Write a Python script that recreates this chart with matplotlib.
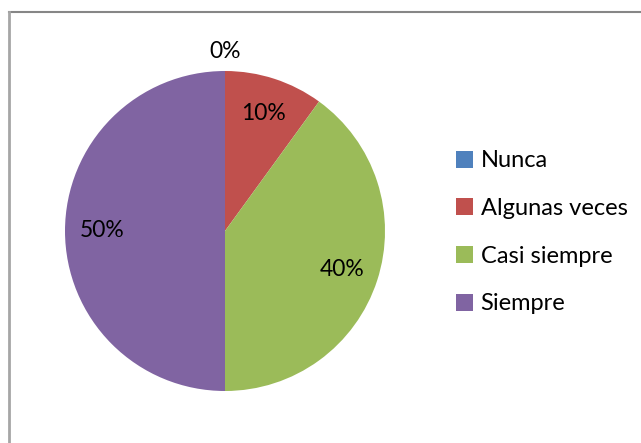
import numpy as np
import matplotlib
matplotlib.use('Agg')
import matplotlib.pyplot as plt
from matplotlib.patches import Patch
from matplotlib.lines import Line2D

plt.rcParams['font.family'] = ['Lato', 'DejaVu Sans']

categories = ['Nunca', 'Algunas veces', 'Casi siempre', 'Siempre']
values = [0, 10, 40, 50]
colors = ['#4F81BD', '#C0504D', '#9BBB59', '#8064A2']

W, H = 641, 443
fig = plt.figure(figsize=(W / 100, H / 100), dpi=100)

# chart frame (only top and left edges visible in the crop)
fig.add_artist(Line2D([9 / W, 1], [1 - 12 / H, 1 - 12 / H], color='#868686', lw=1.5))
fig.add_artist(Line2D([9 / W, 9 / W], [0, 1 - 12 / H], color='#A6A6A6', lw=2))

cx, cy, r = 225, 231, 160
ax = fig.add_axes([(cx - r) / W, 1 - (cy + r) / H, 2 * r / W, 2 * r / H])
wedges, texts, autotexts = ax.pie(values, colors=colors, startangle=90, counterclock=False,
                                  autopct='%1.0f%%', pctdistance=0.77,
                                  textprops={'fontsize': 16.5, 'color': '#000000'},
                                  wedgeprops={'linewidth': 0})
# zero slice label sits outside the pie
for w, t, v in zip(wedges, autotexts, values):
    if v == 0:
        ang = np.deg2rad((w.theta1 + w.theta2) / 2)
        t.set_position((1.12 * np.cos(ang), 1.12 * np.sin(ang)))
ax.set_xlim(-1, 1)
ax.set_ylim(-1, 1)
ax.set_aspect('equal')

handles = [Patch(facecolor=c, edgecolor='none') for c in colors]
fig.legend(handles, categories, loc='upper left', bbox_to_anchor=(447 / W, 1 - 141 / H),
           frameon=False, fontsize=17, handlelength=0.72, handleheight=0.72,
           handletextpad=0.3, labelspacing=1.13, borderaxespad=0)

fig.savefig('out.png', dpi=100)
